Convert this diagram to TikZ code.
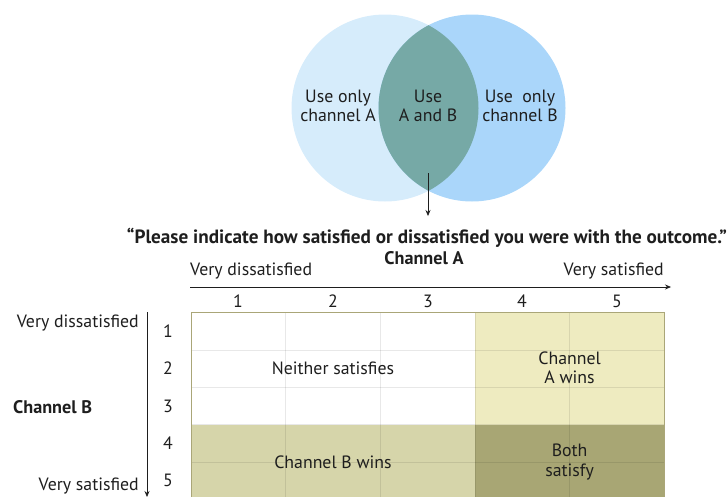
\documentclass[tikz,border=0pt]{standalone}
\usepackage{fontspec}
\setmainfont{PT Sans}
\usetikzlibrary{arrows.meta}
\definecolor{cA}{RGB}{214,236,251}
\definecolor{cB}{RGB}{170,214,250}
\definecolor{cAB}{RGB}{118,169,166}
\definecolor{yA}{RGB}{238,235,192}
\definecolor{yB}{RGB}{214,213,170}
\definecolor{yAB}{RGB}{168,166,116}
\definecolor{bord}{RGB}{170,166,120}
\definecolor{txt}{RGB}{30,30,30}
\begin{document}
\begin{tikzpicture}[x=1pt,y=-1pt,
  lbl/.style={inner sep=0pt, text=txt, font=\fontsize{17.8}{19}\selectfont},
  vlbl/.style={inner sep=0pt, text=txt, align=center, font=\fontsize{17.8}{19.5}\selectfont},
  bold/.style={inner sep=0pt, text=txt, font=\fontsize{18.2}{20}\selectfont\bfseries},
  gline/.style={black, opacity=0.09, line width=0.8pt},
  arr/.style={-{Stealth[length=6pt,width=5pt]}, line width=0.7pt, txt}]
\useasboundingbox (0,0) rectangle (728,496);
\clip (0,0) rectangle (728,496);
% Venn
\node[circle, minimum size=187pt, inner sep=0pt, fill=cA] (ca) at (385,108) {};
\node[circle, minimum size=187pt, inner sep=0pt, fill=cB] (cb) at (472,108) {};
\begin{scope}
  \clip (385,108) circle[radius=93.5pt];
  \fill[cAB] (472,108) circle[radius=93.5pt];
\end{scope}
\node[vlbl] (ta) at (338,106) {Use only\\channel A};
\node[vlbl] (tab) at (428,106) {Use\\A and B};
\node[vlbl] (tb) at (520,106) {Use\ \ only\\channel B};
\coordinate (a1) at (428,173);
\coordinate (a2) at (428,216);
\draw[arr] (a1) -- (a2);
% question
\node[inner sep=0pt, text=txt, font=\fontsize{19.2}{21}\selectfont\bfseries] (q) at (427,238) {“Please indicate how satisfied or dissatisfied you were with the outcome.”};
% Channel A axis
\node[bold] (chA) at (424,258) {Channel A};
\node[lbl, anchor=west] (vdA) at (190,271) {Very dissatisfied};
\node[lbl, anchor=east] (vsA) at (664,271) {Very satisfied};
\coordinate (xa0) at (190,287);
\coordinate (xa1) at (671,287);
\draw[arr] (xa0) -- (xa1);
\foreach \i/\x in {1/238,2/333,3/428,4/522,5/617}
  \node[lbl] (cn\i) at (\x,301) {\i};
% Channel B axis
\node[bold, anchor=west] (chB) at (13,407) {Channel B};
\node[lbl, anchor=east] (vdB) at (139,323) {Very dissatisfied};
\node[lbl, anchor=east] (vsB) at (139,486) {Very satisfied};
\coordinate (ya0) at (147,312);
\coordinate (ya1) at (147,497);
\draw[arr] (ya0) -- (ya1);
\foreach \i/\y in {1/331,2/368,3/406,4/443,5/480}
  \node[lbl] (rn\i) at (168,\y) {\i};
% grid fills
\fill[white] (191,312.7) rectangle (475,424.6);
\fill[yA] (475,312.7) rectangle (664.3,424.6);
\fill[yB] (191,424.6) rectangle (475,505);
\fill[yAB] (475,424.6) rectangle (664.3,505);
% grid lines
\foreach \x in {285.7,380.3,569.6}
  \draw[gline] (\x,312.7) -- (\x,505);
\draw[gline] (475,312.7) -- (475,505);
\foreach \y in {350,387.3,461.9}
  \draw[gline] (191,\y) -- (664.3,\y);
\draw[gline] (191,424.6) -- (664.3,424.6);
\draw[bord, line width=0.8pt] (191,505) -- (191,312.7) -- (664.3,312.7) -- (664.3,505);
% region labels
\node[lbl] (neither) at (333,368) {Neither satisfies};
\node[vlbl] (awins) at (569.6,368) {Channel\\A wins};
\node[lbl] (bwins) at (333,462) {Channel B wins};
\node[vlbl] (both) at (569.6,462) {Both\\satisfy};
\end{tikzpicture}
\end{document}
